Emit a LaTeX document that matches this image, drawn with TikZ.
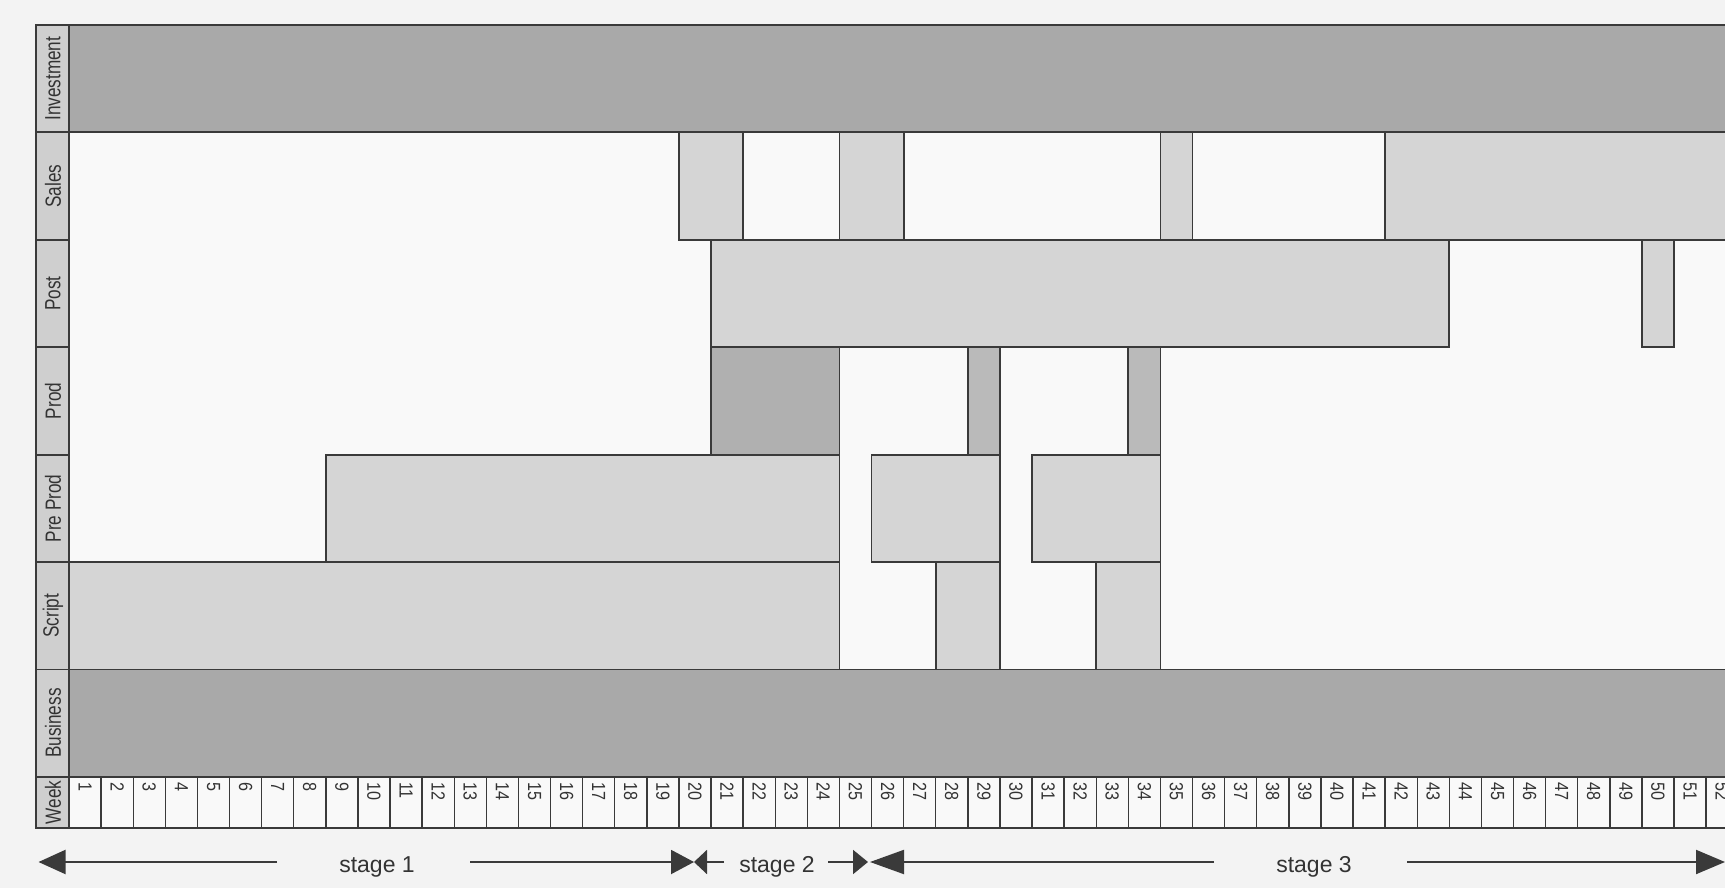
\documentclass[tikz,border=0pt]{standalone}
\usepackage{fontspec}
\setmainfont{Liberation Sans}
\newfontfamily\condfont[FakeStretch=0.78]{Liberation Sans}
\newfontfamily\numfont[FakeStretch=0.85]{Liberation Sans}
\usetikzlibrary{arrows.meta}
\definecolor{pagebg}{HTML}{F3F3F3}
\definecolor{plotbg}{HTML}{F9F9F9}
\definecolor{labelfill}{HTML}{CFCFCF}
\definecolor{bandfill}{HTML}{A9A9A9}
\definecolor{barfill}{HTML}{D5D5D5}
\definecolor{proddark}{HTML}{B0B0B0}
\definecolor{prodmid}{HTML}{BABABA}
\definecolor{linecol}{HTML}{3A3A3A}
\definecolor{textcol}{HTML}{333333}
% bar from week #2 to week #3 in row #4 (1 = Investment ... 7 = Business)
\newcommand\gbar[4][barfill]{%
  \filldraw[fill=#1,draw=linecol,line width=1.8pt]
    ({69+(#2-1)*32.1},{25+(#4-1)*107.4}) rectangle ({69+#3*32.1},{25+#4*107.4});}
\begin{document}
\begin{tikzpicture}[x=1pt,y=-1pt,
  rowlabel/.style={font=\condfont\fontsize{22}{22}\selectfont,text=textcol,rotate=90,inner sep=0pt},
  weeknum/.style={font=\numfont\fontsize{19}{19}\selectfont,text=textcol,rotate=-90,anchor=west,inner sep=0pt},
  stagetext/.style={font=\fontsize{23}{23}\selectfont,text=textcol,anchor=base,inner sep=0pt},
  stagearrow/.style={draw=linecol,line width=2pt},
  border/.style={draw=linecol,line width=1.8pt}]
\useasboundingbox (0,0) rectangle (1725,888);
\fill[pagebg] (0,0) rectangle (1725,888);
\begin{scope}
\clip (0,0) rectangle (1725,888);
% plot area
\fill[plotbg] (69,25) rectangle (1760,776.8);
% full-width bands
\gbar[bandfill]{1}{53}{1}
\gbar[bandfill]{1}{53}{7}
% Sales
\gbar{20}{21}{2}
\gbar{25}{26}{2}
\gbar{35}{35}{2}
\gbar{42}{53}{2}
% Post
\gbar{21}{43}{3}
\gbar{50}{50}{3}
% Prod
\gbar[proddark]{21}{24}{4}
\gbar[prodmid]{29}{29}{4}
\gbar[prodmid]{34}{34}{4}
% Pre Prod
\gbar{9}{24}{5}
\gbar{26}{29}{5}
\gbar{31}{34}{5}
% Script
\gbar{1}{24}{6}
\gbar{28}{29}{6}
\gbar{33}{34}{6}
% week row
\filldraw[fill=plotbg,border] (69,776.8) rectangle (1760,828);
\foreach \k in {1,...,52}{
  \draw[border,line width=1.4pt] ({69+\k*32.1},776.8) -- ({69+\k*32.1},828);
  \node[weeknum] (w\k) at ({69+(\k-0.5)*32.1},782) {\k};
}
% label column
\foreach \r/\name/\txt in {1/linv/Investment,2/lsal/Sales,3/lpost/Post,4/lprod/Prod,5/lpre/Pre Prod,6/lscr/Script,7/lbus/Business}{
  \filldraw[fill=labelfill,border] (36,{25+(\r-1)*107.4}) rectangle (69,{25+\r*107.4});
  \node[rowlabel] (\name) at (53,{25+(\r-0.5)*107.4}) {\txt};
}
\filldraw[fill=labelfill,border] (36,776.8) rectangle (69,828);
\node[rowlabel] (lweek) at (53,802.4) {Week};
% outer frame lines
\draw[border] (36,25) -- (1760,25);
\draw[border] (36,25) -- (36,828) -- (1760,828);
\draw[draw=linecol,line width=2.8pt] (69,25) -- (69,828);
% stage arrows
\coordinate (a1s) at (277,862);  \coordinate (a1t) at (38.5,862);
\coordinate (a2s) at (470,862);  \coordinate (a2t) at (694,862);
\coordinate (a3s) at (724,862);  \coordinate (a3t) at (694,862);
\coordinate (a4s) at (828,862);  \coordinate (a4t) at (868,862);
\coordinate (a5s) at (1214,862); \coordinate (a5t) at (870,862);
\coordinate (a6s) at (1407,862); \coordinate (a6t) at (1725,862);
\draw[stagearrow,-{Triangle[length=27pt,width=24pt]}] (a1s) -- (a1t);
\draw[stagearrow,-{Triangle[length=23pt,width=24pt]}] (a2s) -- (a2t);
\draw[stagearrow,-{Triangle[length=13pt,width=24pt]}] (a3s) -- (a3t);
\draw[stagearrow,-{Triangle[length=15pt,width=24pt]}] (a4s) -- (a4t);
\draw[stagearrow,-{Triangle[length=34pt,width=24pt]}] (a5s) -- (a5t);
\draw[stagearrow,-{Triangle[length=29pt,width=24pt]}] (a6s) -- (a6t);
\node[stagetext] (st1) at (377,872) {stage 1};
\node[stagetext] (st2) at (777,872) {stage 2};
\node[stagetext] (st3) at (1314,872) {stage 3};
\end{scope}
\end{tikzpicture}
\end{document}
